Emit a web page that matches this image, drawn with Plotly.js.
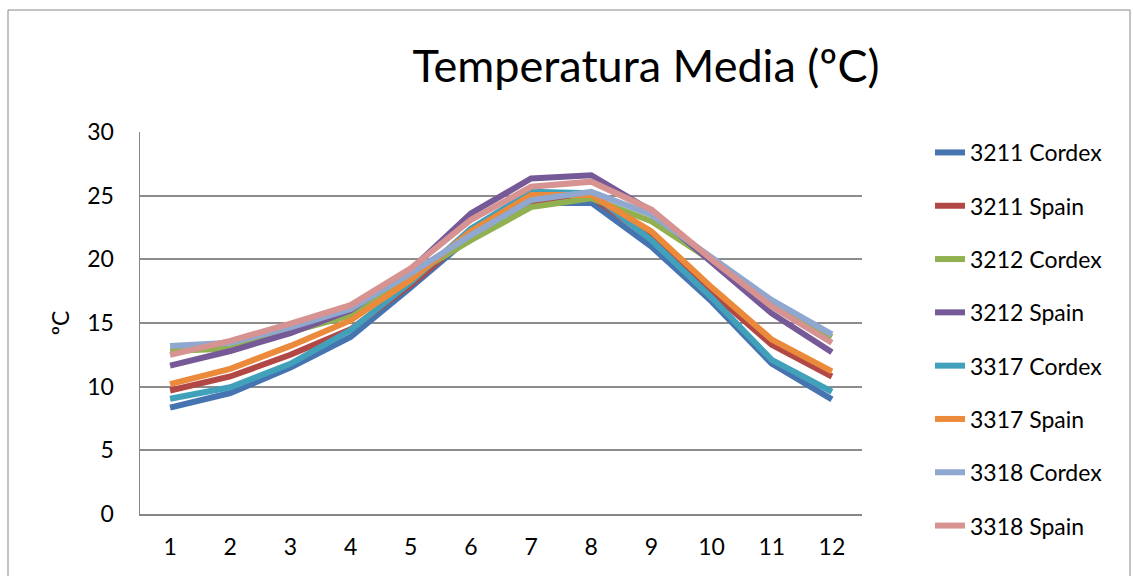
<!DOCTYPE html>
<html>
<head>
<meta charset="utf-8">
<script src="https://cdn.plot.ly/plotly-3.0.1.min.js"></script>
<style>
html,body{margin:0;padding:0;background:#fff;}
#chart{width:1133px;height:576px;}
</style>
</head>
<body>
<div id="chart"></div>
<script>
const months = [1,2,3,4,5,6,7,8,9,10,11,12];
const seriesNames = ["3211 Cordex","3211 Spain","3212 Cordex","3212 Spain","3317 Cordex","3317 Spain","3318 Cordex","3318 Spain"];
const s3211Cordex = [8.35, 9.5, 11.5, 13.9, 17.8, 21.8, 24.4, 24.45, 21.0, 16.7, 11.8, 9.0];
const s3211Spain  = [9.7, 10.8, 12.5, 14.5, 18.0, 22.0, 24.5, 24.9, 21.7, 17.4, 13.3, 10.8];
const s3212Cordex = [12.8, 13.0, 14.3, 15.6, 18.7, 21.5, 24.1, 24.8, 23.0, 19.9, 16.4, 13.9];
const s3212Spain  = [11.65, 12.8, 14.2, 16.0, 19.2, 23.6, 26.35, 26.6, 23.8, 19.7, 15.75, 12.7];
const s3317Cordex = [9.05, 9.95, 11.8, 14.45, 18.2, 22.4, 25.3, 25.2, 21.5, 17.0, 12.1, 9.6];
const s3317Spain  = [10.2, 11.4, 13.2, 15.2, 18.4, 22.2, 25.05, 25.05, 22.2, 17.8, 13.7, 11.2];
const s3318Cordex = [13.2, 13.45, 14.65, 16.1, 18.9, 21.9, 24.65, 25.3, 23.5, 20.1, 16.8, 14.1];
const s3318Spain  = [12.5, 13.6, 14.95, 16.4, 19.3, 23.1, 25.7, 26.1, 23.9, 20.0, 16.3, 13.45];
const allSeries = [s3211Cordex, s3211Spain, s3212Cordex, s3212Spain, s3317Cordex, s3317Spain, s3318Cordex, s3318Spain];
const colors = ["#4674B0","#B24845","#91B150","#765A98","#41A0BA","#EC8A3C","#90A8D0","#D69391"];
const yTicks = [0,5,10,15,20,25,30];

const FONT = "Lato, 'Open Sans', sans-serif";

const traces = allSeries.map((ys, i) => ({
  x: months,
  y: ys,
  type: "scatter",
  mode: "lines",
  name: seriesNames[i],
  legendgroup: "g" + i,
  line: {color: colors[i], width: 6},
  hoverinfo: "skip"
}));

// plot area geometry (px)
const L = 140, R = 1133 - 862, T = 132, B = 576 - 514;
const PW = 1133 - L - R, PH = 576 - T - B;

const layout = {
  width: 1133,
  height: 576,
  margin: {l: L, r: R, t: T, b: B, pad: 0},
  paper_bgcolor: "#ffffff",
  plot_bgcolor: "#ffffff",
  showlegend: true,
  title: {
    text: "Temperatura Media (ºC)",
    font: {family: FONT, size: 45, color: "#000"},
    x: 646 / 1133,
    xanchor: "center",
    y: 1 - 66 / 576,
    yanchor: "middle"
  },
  xaxis: {
    range: [0.5, 12.5],
    tickmode: "array",
    tickvals: months,
    ticktext: months.map(String),
    showgrid: false,
    zeroline: false,
    showline: true,
    linecolor: "#868686",
    linewidth: 1.5,
    ticks: "",
    tickfont: {family: FONT, size: 23, color: "#000"},
    ticklabelstandoff: 12,
    fixedrange: true
  },
  yaxis: {
    range: [0, 30],
    tickmode: "array",
    tickvals: yTicks,
    ticktext: yTicks.map(String),
    showgrid: true,
    gridcolor: "#8c8c8c",
    gridwidth: 2,
    zeroline: false,
    showline: true,
    linecolor: "#868686",
    linewidth: 1.5,
    ticks: "",
    tickfont: {family: FONT, size: 23, color: "#000"},
    ticklabelstandoff: 20,
    title: {text: "ºC", font: {family: FONT, size: 23, color: "#000"}, standoff: 11},
    fixedrange: true
  },
  legend: {
    x: (930 - L) / PW,
    xanchor: "left",
    y: (514 - 131) / PH,
    yanchor: "top",
    font: {family: FONT, size: 23, color: "#000"},
    bgcolor: "rgba(0,0,0,0)",
    tracegroupgap: 20.4,
    itemwidth: 30,
    traceorder: "grouped",
    maxheight: 1000
  },
  shapes: [{
    type: "rect",
    xref: "paper", yref: "paper",
    x0: (8 - L) / PW, x1: (1130 - L) / PW,
    y0: (514 - 590) / PH, y1: (514 - 10) / PH,
    line: {color: "#888888", width: 1},
    fillcolor: "rgba(0,0,0,0)",
    layer: "below"
  }]
};

Plotly.newPlot("chart", traces, layout, {displayModeBar: false, staticPlot: true});
</script>
</body>
</html>
